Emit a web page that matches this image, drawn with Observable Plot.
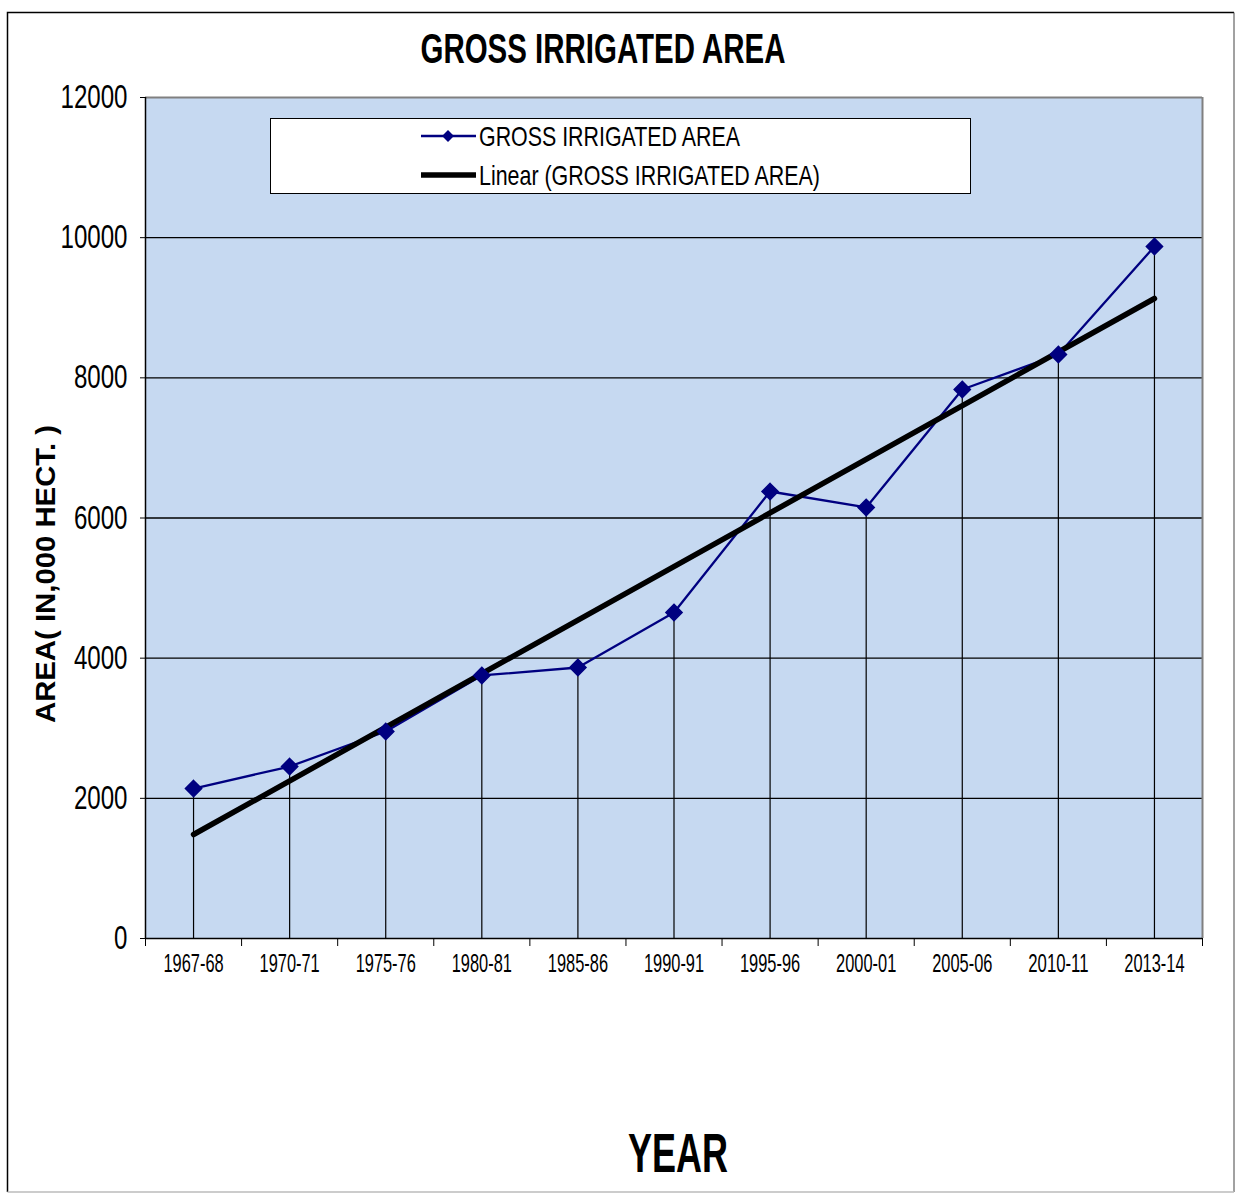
<!DOCTYPE html>
<html>
<head>
<meta charset="utf-8">
<script src="https://cdn.jsdelivr.net/npm/d3@7"></script>
<script src="https://cdn.jsdelivr.net/npm/@observablehq/plot@0.6"></script>
<style>
  body { margin: 0; background: #fff; }
  #page { position: relative; width: 1236px; height: 1194px; overflow: hidden; background: #fff; }
  #page > svg { position: absolute; left: 0; top: 0; }
  #overlay { pointer-events: none; }
</style>
</head>
<body>
<div id="page"></div>
<script>
// ---- data ----
const years = ["1967-68","1970-71","1975-76","1980-81","1985-86","1990-91","1995-96","2000-01","2005-06","2010-11","2013-14"];
const area  = [2140, 2454, 2954, 3753, 3867, 4652, 6378, 6150, 7834, 8333, 9874];
const yTicks = [0, 2000, 4000, 6000, 8000, 10000, 12000];
const gridValues = [2000, 4000, 6000, 8000, 10000];
const titleText = "GROSS IRRIGATED AREA";
const seriesName = "GROSS IRRIGATED AREA";
const trendName = "Linear (GROSS IRRIGATED AREA)";
const yLabel = "AREA( IN,000  HECT. )";
const xLabel = "YEAR";

const rows = years.map((y, k) => ({i: k + 1, year: y, v: area[k]}));
const idx = rows.map(d => d.i);
const bounds = d3.range(0.5, years.length + 1, 1);

const NARROW = "'Liberation Sans Narrow', 'Liberation Sans', Arial, sans-serif";

const chart = Plot.plot({
  width: 1236,
  height: 1194,
  marginLeft: 145,
  marginRight: 34,
  marginTop: 97,
  marginBottom: 256,
  style: {background: "transparent", fontFamily: NARROW, color: "#000"},
  x: {type: "linear", domain: [0.5, years.length + 0.5]},
  y: {domain: [0, 12000]},
  marks: [
    Plot.frame({fill: "#C6D9F1", stroke: null}),
    Plot.ruleY(gridValues, {stroke: "#000", strokeWidth: 1.3}),
    Plot.ruleY([12000], {stroke: "#808080", strokeWidth: 2}),
    Plot.ruleX([years.length + 0.5], {stroke: "#808080", strokeWidth: 2}),
    Plot.ruleX(rows, {x: "i", y1: 0, y2: "v", stroke: "#000", strokeWidth: 1.2}),
    Plot.line(rows, {x: "i", y: "v", stroke: "#000080", strokeWidth: 2.3}),
    Plot.linearRegressionY(rows, {x: "i", y: "v", stroke: "#000", strokeWidth: 5.5, ci: 0}),
    Plot.dot(rows, {x: "i", y: "v", symbol: "diamond2", r: 7.3, fill: "#000080", stroke: "#000080"}),
    Plot.ruleY([0], {stroke: "#000", strokeWidth: 1.5}),
    Plot.ruleX([0.5], {stroke: "#000", strokeWidth: 1.5}),
    Plot.axisY({ticks: yTicks, tickFormat: d3.format("d"), tickSize: 5, tickPadding: 13, fontSize: 33, label: null, stroke: "#000"}),
    Plot.axisX({ticks: idx, tickFormat: i => years[i - 1], tickSize: 0, tickPadding: 15, fontSize: 26, label: null}),
    Plot.axisX({ticks: bounds, tickFormat: () => "", tickSize: 8, label: null, stroke: "#000"})
  ]
});

const page = document.getElementById("page");
page.appendChild(chart);

// narrow the tick labels to the condensed look of the reference
d3.select(chart).selectAll('g[aria-label="y-axis tick label"] text').each(function() {
  const t = this.textContent;
  this.setAttribute("textLength", t.length * 13.4);
  this.setAttribute("lengthAdjust", "spacingAndGlyphs");
});
d3.select(chart).selectAll('g[aria-label="x-axis tick label"] text').each(function() {
  const t = this.textContent;
  if (t.length) {
    this.setAttribute("textLength", t.length * 8.6);
    this.setAttribute("lengthAdjust", "spacingAndGlyphs");
  }
});

// overlay: border, titles, legend
const ov = d3.select(page).append("svg")
  .attr("id", "overlay")
  .attr("width", 1236).attr("height", 1194)
  .style("font-family", NARROW);

// outer chart border
ov.append("path").attr("d", "M7.5,1192 V12.5 H1234").attr("fill", "none").attr("stroke", "#000").attr("stroke-width", 1.5);
ov.append("path").attr("d", "M1234,12.5 V1192").attr("fill", "none").attr("stroke", "#444").attr("stroke-width", 1);
ov.append("path").attr("d", "M7.5,1192 H1234").attr("fill", "none").attr("stroke", "#bbb").attr("stroke-width", 1.5);

// title
ov.append("text").text(titleText)
  .attr("x", 603).attr("y", 63).attr("text-anchor", "middle")
  .attr("font-size", 42).attr("font-weight", "bold")
  .attr("textLength", 365).attr("lengthAdjust", "spacingAndGlyphs");

// x label
ov.append("text").text(xLabel)
  .attr("x", 678).attr("y", 1172).attr("text-anchor", "middle")
  .attr("font-size", 56).attr("font-weight", "bold")
  .attr("textLength", 100).attr("lengthAdjust", "spacingAndGlyphs");

// y label
ov.append("text").text(yLabel)
  .attr("transform", "translate(55,574) rotate(-90)").attr("text-anchor", "middle")
  .attr("font-family", "'Liberation Sans', Arial, sans-serif")
  .attr("font-size", 27).attr("font-weight", "bold")
  .attr("textLength", 298).attr("lengthAdjust", "spacingAndGlyphs");

// legend
const lg = ov.append("g");
lg.append("rect").attr("x", 270.5).attr("y", 118.5).attr("width", 700).attr("height", 75)
  .attr("fill", "#fff").attr("stroke", "#000").attr("stroke-width", 1);
lg.append("line").attr("x1", 421).attr("x2", 476).attr("y1", 136).attr("y2", 136)
  .attr("stroke", "#000080").attr("stroke-width", 2.3);
lg.append("path").attr("d", d3.symbol(d3.symbolDiamond2, 90)()).attr("transform", "translate(448,136)")
  .attr("fill", "#000080");
lg.append("text").text(seriesName).attr("x", 479).attr("y", 146)
  .attr("font-size", 28).attr("textLength", 261).attr("lengthAdjust", "spacingAndGlyphs");
lg.append("line").attr("x1", 421).attr("x2", 476).attr("y1", 175).attr("y2", 175)
  .attr("stroke", "#000").attr("stroke-width", 5.5);
lg.append("text").text(trendName).attr("x", 479).attr("y", 185)
  .attr("font-size", 28).attr("textLength", 341).attr("lengthAdjust", "spacingAndGlyphs");
</script>
</body>
</html>
